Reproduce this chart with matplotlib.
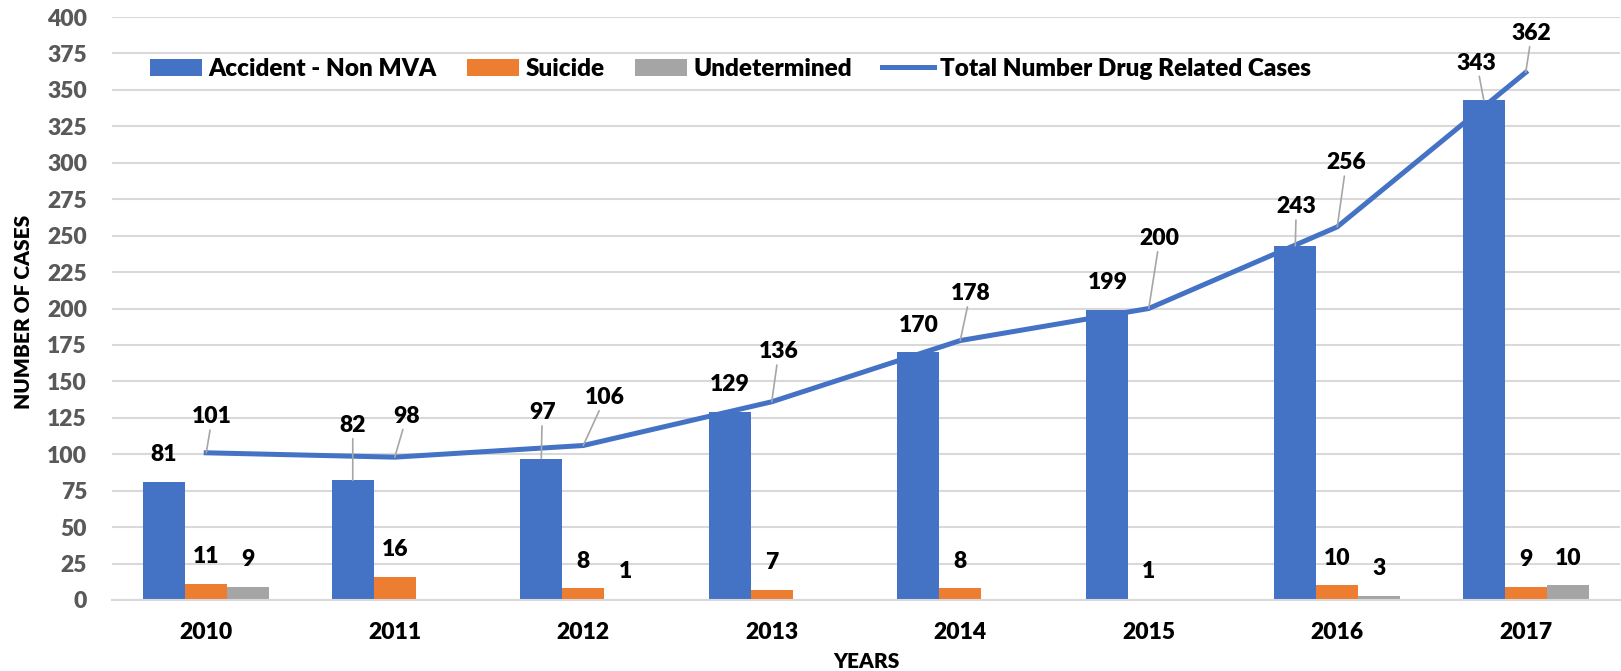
"""
Drug related cases by manner of death, 2010-2017.
"""
import matplotlib
import matplotlib.pyplot as plt
import numpy as np

# Use non-interactive backend
matplotlib.use("Agg")

plt.rcParams["font.family"] = ["Lato", "DejaVu Sans"]
WEIGHT = "heavy"
plt.rcParams["font.weight"] = WEIGHT

years = ["2010", "2011", "2012", "2013", "2014", "2015", "2016", "2017"]
accident = [81, 82, 97, 129, 170, 199, 243, 343]
suicide = [11, 16, 8, 7, 8, 1, 10, 9]
undetermined = [9, 0, 1, 0, 0, 0, 3, 10]
total = [101, 98, 106, 136, 178, 200, 256, 362]

# where each label sits relative to its bar top / line point (pixels, y up)
accident_label_shift = [(-1, 27), (0, 55), (1, 46), (0, 27),
                        (1, 27), (1, 27), (1, 39), (-7, 37)]
total_label_shift = [(6, 36), (12, 41), (22, 48), (7, 50),
                     (10, 47), (11, 70), (9, 64), (6, 39)]

BLUE = "#4472C4"
ORANGE = "#ED7D31"
GRAY = "#A5A5A5"
GRID = "#D9D9D9"
LEADER = "#A6A6A6"

fig = plt.figure(figsize=(16.21, 6.71), dpi=100)
ax = fig.add_axes([112 / 1621, 71 / 671, 1508 / 1621, 583 / 671])

x = np.arange(len(years))
w = 0.2227

b1 = ax.bar(x - w, accident, w, color=BLUE, label="Accident - Non MVA", zorder=2)
b2 = ax.bar(x, suicide, w, color=ORANGE, label="Suicide", zorder=2)
b3 = ax.bar(x + w, undetermined, w, color=GRAY, label="Undetermined", zorder=2)
ln, = ax.plot(x, total, color=BLUE, lw=3.6, zorder=3,
              label="Total Number Drug Related Cases")


def label(xv, yv, text, shift, leader):
    kw = {}
    if leader:
        kw["arrowprops"] = dict(arrowstyle="-", color=LEADER, lw=1.2,
                                shrinkA=0, shrinkB=0)
    ax.annotate(text, xy=(xv, yv), xytext=shift, textcoords="offset pixels",
                ha="center", va="center", fontsize=16.5, fontweight=WEIGHT,
                color="black", zorder=5, **kw)


for i in range(len(years)):
    dx, dy = accident_label_shift[i]
    label(x[i] - w, accident[i], str(accident[i]), (dx, dy), dy > 30 or abs(dx) > 3)
    dx, dy = total_label_shift[i]
    label(x[i], total[i], str(total[i]), (dx, dy), True)
    if suicide[i]:
        label(x[i], suicide[i], str(suicide[i]), (0, 27), False)
    if undetermined[i]:
        label(x[i] + w, undetermined[i], str(undetermined[i]), (0, 27), False)

ax.set_xlim(-0.5, len(years) - 0.5)
ax.set_ylim(0, 400)
ax.set_yticks(np.arange(0, 401, 25))
ax.set_xticks(x)
ax.set_xticklabels(years)

ax.grid(axis="y", color=GRID, lw=1.5)
ax.set_axisbelow(True)
for s in ["top", "right", "left"]:
    ax.spines[s].set_visible(False)
ax.spines["bottom"].set_color(GRID)
ax.spines["bottom"].set_linewidth(1.5)

ax.tick_params(axis="y", length=0, pad=18, labelsize=16.5, labelcolor="#595959")
ax.tick_params(axis="x", length=0, pad=16, labelsize=16.5, labelcolor="black")
for t in ax.get_yticklabels() + ax.get_xticklabels():
    t.set_fontweight(WEIGHT)

ax.set_xlabel("YEARS", fontsize=15, fontweight=WEIGHT, va="center")
ax.xaxis.set_label_coords(0.5, -0.106)
ax.set_ylabel("NUMBER OF CASES", fontsize=15, fontweight=WEIGHT, va="center")
ax.yaxis.set_label_coords(-0.059, 0.495)

fig.legend(handles=[b1, b2, b3, ln], loc="center left", ncol=4,
           bbox_to_anchor=(150 / 1621, 1 - 69 / 671), frameon=False,
           prop={"size": 17.5, "weight": WEIGHT}, handlelength=2.15,
           handletextpad=0.25, columnspacing=1.25, borderpad=0,
           borderaxespad=0)

fig.savefig("out.png", dpi=100)
plt.close(fig)
